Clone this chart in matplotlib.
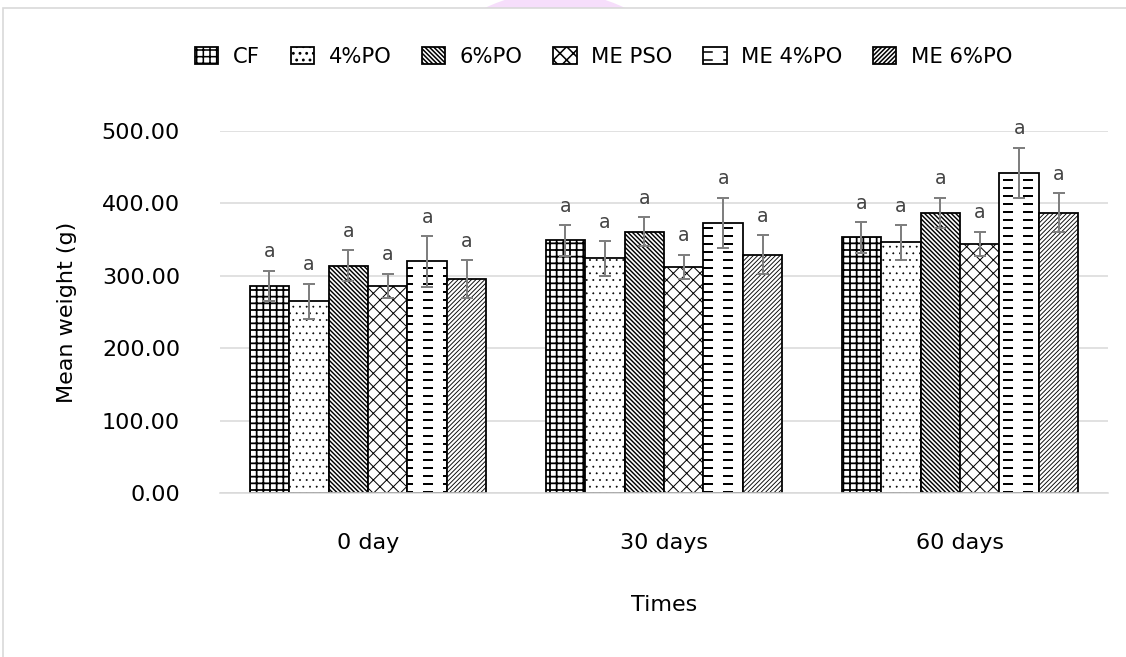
import numpy as np
import matplotlib
matplotlib.use('Agg')
import matplotlib.pyplot as plt
import matplotlib.hatch as mhatch
from matplotlib.path import Path
from matplotlib.patches import Rectangle, Ellipse

# data
times = ['0 day', '30 days', '60 days']
groups = ['CF', '4%PO', '6%PO', 'ME PSO', 'ME 4%PO', 'ME 6%PO']
cf = [286, 349, 353]
po4 = [265, 324, 346]
po6 = [314, 361, 387]
me_pso = [286, 312, 344]
me_po4 = [320, 373, 442]
me_po6 = [296, 329, 387]
cf_err = [21, 21, 21]
po4_err = [24, 24, 24]
po6_err = [21, 20, 21]
me_pso_err = [17, 17, 17]
me_po4_err = [35, 35, 35]
me_po6_err = [26, 27, 27]
letters = ['a', 'a', 'a']


# Excel-like dashed fill, hooked onto the '*' hatch character
class DashHatch(mhatch.HatchPatternBase):
    def __init__(self, hatch, density):
        self.rows = 10 if '*' in hatch else 0
        self.cols = 4
        self.num_vertices = self.rows * self.cols * 2

    def set_vertices_and_codes(self, vertices, codes):
        k = 0
        for r in range(self.rows):
            y = (r + 0.5) / self.rows
            for c in range(self.cols):
                x0 = c / self.cols + 0.05
                vertices[k] = (x0, y)
                vertices[k + 1] = (x0 + 0.1, y)
                codes[k] = Path.MOVETO
                codes[k + 1] = Path.LINETO
                k += 2


mhatch._hatch_types[mhatch._hatch_types.index(mhatch.Stars)] = DashHatch

plt.rcParams['font.family'] = ['DejaVu Sans']
plt.rcParams['hatch.linewidth'] = 1.4

fig = plt.figure(figsize=(1126 / 80, 657 / 80), dpi=80)

# faint watermark blob and the outer chart frame
fig.patches.append(Ellipse((555 / 1126, 1 - 154 / 657), 2 * 162 / 1126, 2 * 162 / 657,
                           transform=fig.transFigure, facecolor='#f6defb', edgecolor='none',
                           zorder=-3))
fig.patches.append(Rectangle((3 / 1126, -0.1), 1.2, 1 - 8 / 657 + 0.1, transform=fig.transFigure,
                             facecolor='white', edgecolor='#d9d9d9', linewidth=1.5, zorder=-2))

ax = fig.add_axes([220 / 1126, 1 - 493 / 657, 888 / 1126, 362 / 657])
ax.set_facecolor('none')

series = [cf, po4, po6, me_pso, me_po4, me_po6]
errors = [cf_err, po4_err, po6_err, me_pso_err, me_po4_err, me_po6_err]
hatches = ['++', '..', '\\' * 6, 'xx', '*', '/' * 6]
hatch_lw = [1.6, 0.5, 1.3, 0.9, 1.8, 0.8]

x = np.arange(len(times))
width = 0.8 / len(groups)
for i, (name, vals, errs) in enumerate(zip(groups, series, errors)):
    pos = x + (i - 2.5) * width
    bars = ax.bar(pos, vals, width, color='white', edgecolor='black', linewidth=1.6,
                  hatch=hatches[i], label=name, zorder=2)
    for b in bars:
        if hasattr(b, 'set_hatch_linewidth'):
            b.set_hatch_linewidth(hatch_lw[i])
    ax.errorbar(pos, vals, yerr=errs, fmt='none', ecolor='#7f7f7f', elinewidth=1.8,
                capsize=5, capthick=1.8, zorder=3)
    for p, v, e, t in zip(pos, vals, errs, letters):
        ax.annotate(t, (p, v + e), xytext=(0, 12), textcoords='offset points',
                    ha='center', va='baseline', fontsize=17, color='#454545',
                    annotation_clip=False)

ax.set_xlim(-0.5, 2.5)
ax.set_ylim(0, 500)
ax.set_yticks(np.arange(0, 501, 100))
ax.set_yticklabels(['%.2f' % v for v in np.arange(0, 501, 100)])
ax.set_xticks(x)
ax.set_xticklabels(times)
ax.grid(axis='y', color='#d9d9d9', linewidth=1.4, zorder=0)
ax.set_axisbelow(True)
for s in ['left', 'top', 'right']:
    ax.spines[s].set_visible(False)
ax.spines['bottom'].set_color('#d9d9d9')
ax.spines['bottom'].set_linewidth(1.4)
ax.tick_params(axis='both', length=0, labelsize=20, colors='black')
ax.tick_params(axis='x', pad=36)
ax.tick_params(axis='y', pad=36)
ax.set_xlabel('Times', fontsize=20, labelpad=38)
ax.set_ylabel('Mean weight (g)', fontsize=20, labelpad=22)

fig.legend(loc='center left', bbox_to_anchor=(176 / 1126, 1 - 57 / 657), ncol=6, frameon=False,
           fontsize=19, handlelength=1.1, handleheight=0.85, handletextpad=0.7,
           columnspacing=1.45)

fig.savefig('out.png', dpi=80)
